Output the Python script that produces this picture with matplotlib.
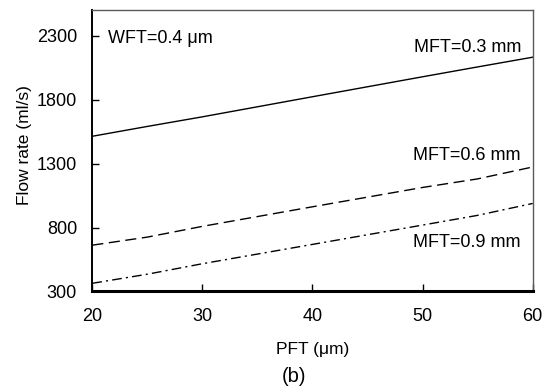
import matplotlib.pyplot as plt

plt.rcParams['font.family'] = ['Liberation Sans', 'DejaVu Sans']

pft = [20, 25, 30, 40, 50, 55, 60]
mft_03 = [1513, 1590, 1665, 1822, 1978, 2055, 2131]
mft_06 = [662, 725, 809, 962, 1113, 1180, 1273]
mft_09 = [364, 435, 517, 668, 819, 895, 988]

fig = plt.figure(figsize=(5.42, 3.87), dpi=100)
ax = fig.add_axes([0.1703, 0.2468, 0.8125, 0.7274])

ax.plot(pft, mft_03, color='black', lw=1.0, ls='-')
ax.plot(pft, mft_06, color='black', lw=1.0, ls=(0, (8, 4)))
ax.plot(pft, mft_09, color='black', lw=1.0, ls=(0, (7, 3, 1.5, 3)))

ax.set_xlim(20, 60)
ax.set_ylim(300, 2500)
ax.set_xticks([20, 30, 40, 50, 60])
ax.set_yticks([300, 800, 1300, 1800, 2300])
ax.tick_params(direction='in', length=5, width=1, labelsize=13)
ax.tick_params(axis='y', pad=11)
ax.tick_params(axis='x', pad=12)
ax.spines['bottom'].set_linewidth(2.2)
ax.spines['left'].set_linewidth(1.4)
for s in ['top', 'right']:
    ax.spines[s].set_linewidth(1.0)
    ax.spines[s].set_color('0.35')

ax.text(21.4, 2275, 'WFT=0.4 μm', fontsize=13, va='center', ha='left')
ax.text(59.0, 2209, 'MFT=0.3 mm', fontsize=13, va='center', ha='right')
ax.text(58.9, 1365, 'MFT=0.6 mm', fontsize=13, va='center', ha='right')
ax.text(58.9, 681, 'MFT=0.9 mm', fontsize=13, va='center', ha='right')

ax.set_xlabel('PFT (μm)', fontsize=12.5)
ax.xaxis.set_label_coords(0.5, -0.18)
ax.set_ylabel('Flow rate (ml/s)', fontsize=12.5)
ax.yaxis.set_label_coords(-0.138, 0.52)
fig.text(294 / 542, 1 - 376 / 387, '(b)', fontsize=14.5, ha='center', va='center')

fig.savefig('out.png', dpi=100)
